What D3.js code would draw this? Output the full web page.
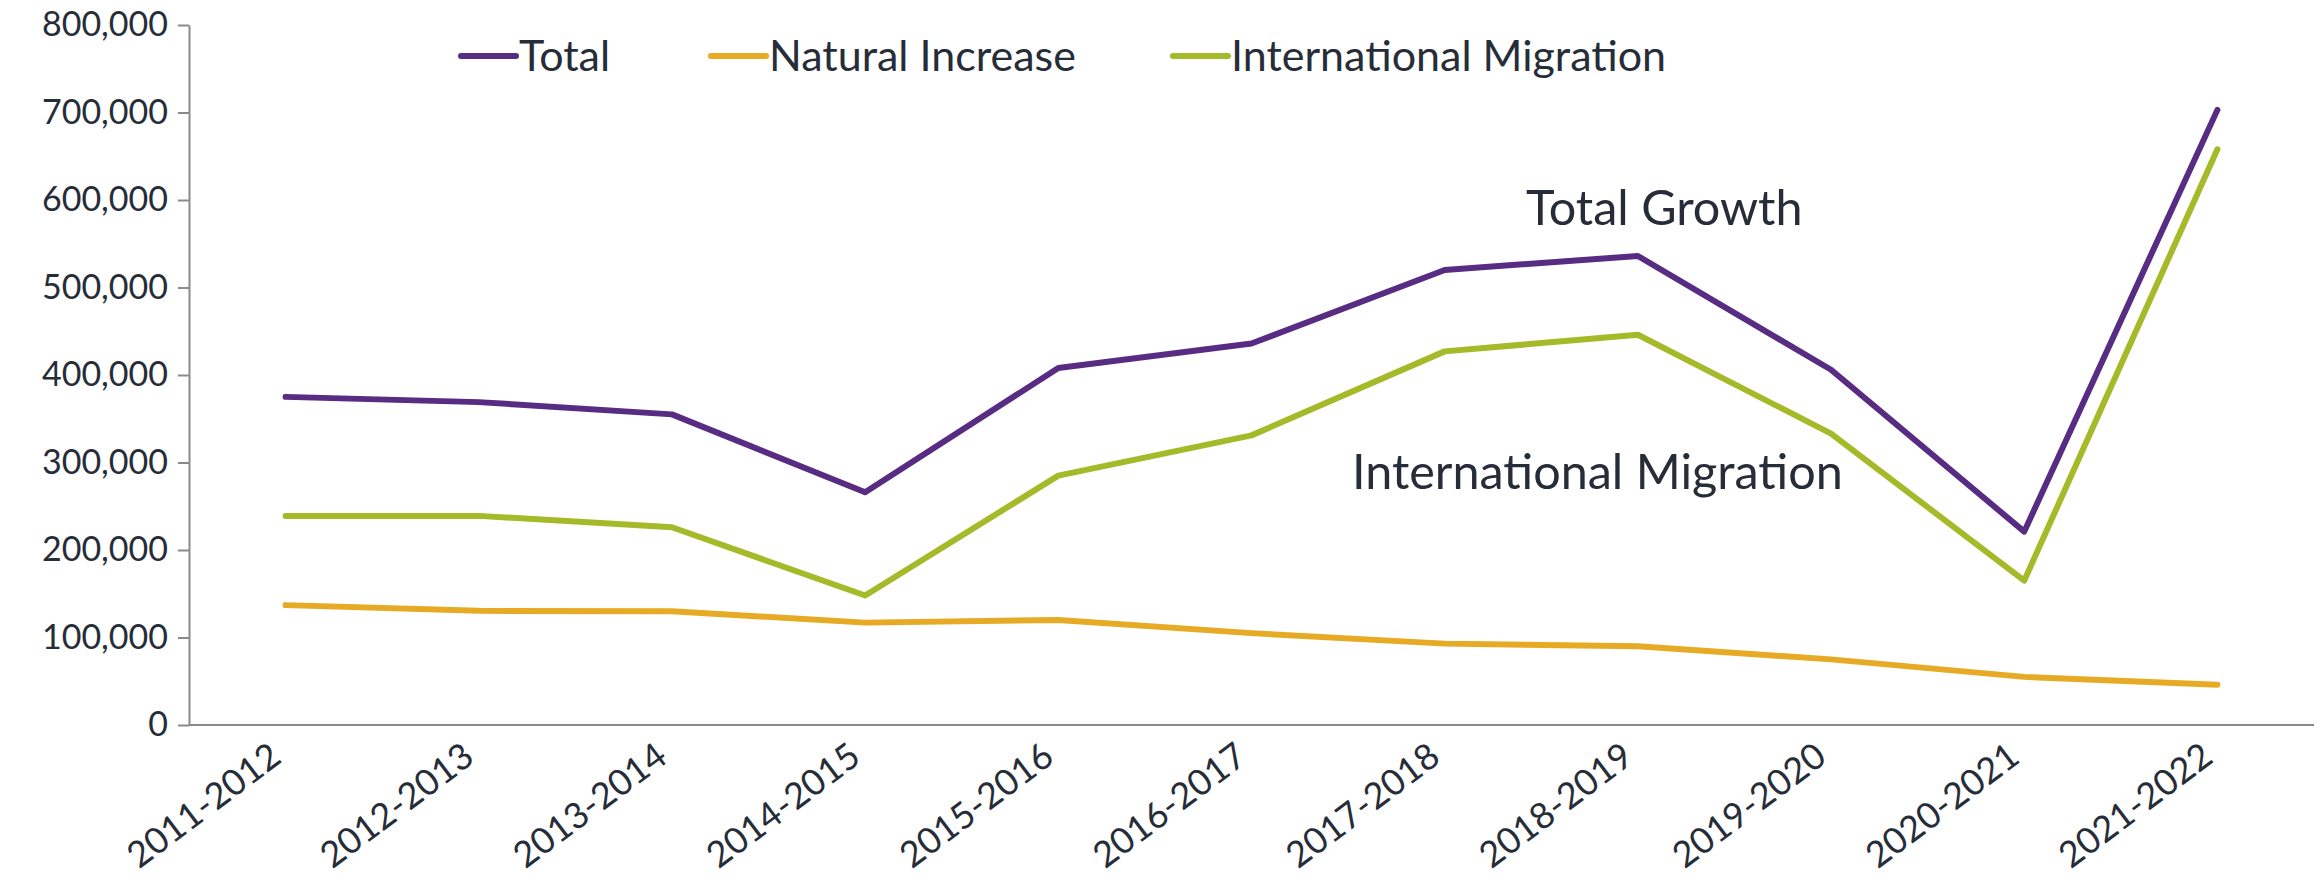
<!DOCTYPE html>
<html>
<head>
<meta charset="utf-8">
<script src="https://cdn.jsdelivr.net/npm/d3@7"></script>
<style>
  html, body { margin: 0; padding: 0; background: #fff; }
  svg { display: block; font-family: Lato, sans-serif; }
</style>
</head>
<body>
<div id="chart"></div>
<script>
const years = ['2011-2012', '2012-2013', '2013-2014', '2014-2015', '2015-2016', '2016-2017',
	'2017-2018', '2018-2019', '2019-2020', '2020-2021', '2021-2022'];
const total = [375000, 369000, 355000, 266000, 408000, 436000, 520000, 536000, 406000, 221000, 703000];
const naturalIncrease = [137000, 130500, 130000, 117000, 120000, 105000, 93000, 90000, 75000, 55000, 46000];
const internationalMigration = [239000, 239000, 226000, 148000, 285000, 331000, 427000, 446000, 333000, 165000, 658000];
const yTicks = [0, 100000, 200000, 300000, 400000, 500000, 600000, 700000, 800000];

const series = [
	{ name: 'Total', values: total, color: '#582c83' },
	{ name: 'Natural Increase', values: naturalIncrease, color: '#e7aa24' },
	{ name: 'International Migration', values: internationalMigration, color: '#a4ba29' }
];

const annotations = [
	{ text: 'Total Growth', x: 1526, y: 225 },
	{ text: 'International Migration', x: 1352, y: 489 }
];

const W = 2323, H = 880;
const margin = { top: 25, right: 9, bottom: 155, left: 189 };
const TEXT = '#262d38';
const AXIS = '#8a8a8a';

const svg = d3.select('#chart').append('svg').attr('width', W).attr('height', H);

const x = d3.scalePoint().domain(years).range([margin.left, W - margin.right]).padding(0.5);
const y = d3.scaleLinear().domain([0, 800000]).range([H - margin.bottom, margin.top]);

// Y axis
const yAxis = svg.append('g')
	.attr('transform', `translate(${margin.left},0)`)
	.call(d3.axisLeft(y).tickValues(yTicks).tickFormat(d3.format(',')).tickSize(11).tickSizeOuter(0).tickPadding(10));
yAxis.selectAll('path, line').attr('stroke', AXIS).attr('stroke-width', 2);
yAxis.selectAll('text').attr('fill', TEXT).style('font-size', '34px').style('font-family', 'Lato');

// X axis (no tick marks, rotated labels)
const xAxis = svg.append('g')
	.attr('transform', `translate(0,${y(0)})`)
	.call(d3.axisBottom(x).tickSize(0).tickSizeOuter(0).tickPadding(0));
xAxis.select('.domain').attr('stroke', AXIS).attr('stroke-width', 2)
	.attr('d', `M${margin.left},0H${W - margin.right}`);
xAxis.selectAll('.tick text')
	.attr('fill', TEXT)
	.style('font-size', '36px')
	.style('font-family', 'Lato')
	.attr('text-anchor', 'end')
	.attr('y', 0)
	.attr('dy', 0)
	.attr('transform', 'translate(-3,36) rotate(-37)');

// Lines
const line = d3.line()
	.x((d, i) => x(years[i]))
	.y(d => y(d));

svg.append('g')
	.selectAll('path')
	.data(series)
	.join('path')
	.attr('fill', 'none')
	.attr('stroke', d => d.color)
	.attr('stroke-width', 6)
	.attr('stroke-linecap', 'round')
	.attr('stroke-linejoin', 'round')
	.attr('d', d => line(d.values));

// Legend
const legendX = [461, 711, 1173];
const legend = svg.append('g').attr('transform', 'translate(0,56)');
const item = legend.selectAll('g')
	.data(series)
	.join('g')
	.attr('transform', (d, i) => `translate(${legendX[i]},0)`);
item.append('line')
	.attr('x1', 0).attr('x2', 55)
	.attr('stroke', d => d.color)
	.attr('stroke-width', 6)
	.attr('stroke-linecap', 'round');
item.append('text')
	.attr('x', 58)
	.attr('y', 15)
	.attr('fill', TEXT)
	.style('font-size', '43px')
	.text(d => d.name);

// Annotations
svg.append('g')
	.selectAll('text')
	.data(annotations)
	.join('text')
	.attr('x', d => d.x)
	.attr('y', d => d.y)
	.attr('fill', TEXT)
	.style('font-size', '48.5px')
	.text(d => d.text);
</script>
</body>
</html>
